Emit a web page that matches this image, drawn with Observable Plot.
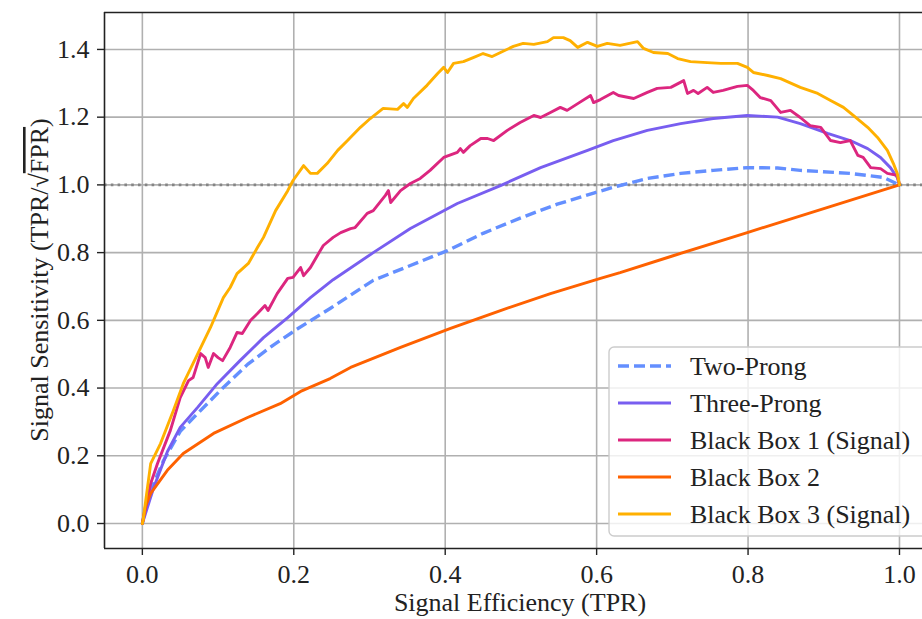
<!DOCTYPE html>
<html>
<head>
<meta charset="utf-8">
<script src="https://cdn.jsdelivr.net/npm/d3@7"></script>
<script src="https://cdn.jsdelivr.net/npm/@observablehq/plot@0.6"></script>
<style>
  html, body { margin: 0; padding: 0; background: #fff; }
  #chart { width: 922px; height: 619px; overflow: hidden; }
</style>
</head>
<body>
<div id="chart"></div>
<script>
// ---- data ----
const xTicks = [0, 0.2, 0.4, 0.6, 0.8, 1.0];
const yTicks = [0, 0.2, 0.4, 0.6, 0.8, 1.0, 1.2, 1.4];
const seriesNames = ["Two-Prong", "Three-Prong", "Black Box 1 (Signal)", "Black Box 2", "Black Box 3 (Signal)"];
const seriesColors = ["#648FFF", "#785EF0", "#DC267F", "#FE6100", "#FFB000"];
const referenceLevel = [1.0];

const twoProng = [[0,0],[0.007,0.077],[0.028,0.186],[0.05,0.272],[0.073,0.325],[0.103,0.393],[0.139,0.47],[0.173,0.527],[0.205,0.575],[0.248,0.635],[0.305,0.718],[0.354,0.762],[0.403,0.806],[0.45,0.857],[0.499,0.902],[0.548,0.943],[0.596,0.976],[0.627,0.996],[0.667,1.019],[0.711,1.034],[0.754,1.043],[0.799,1.051],[0.839,1.05],[0.869,1.043],[0.935,1.034],[0.979,1.022],[1.0,1.0]];

const threeProng = [[0,0],[0.015,0.106],[0.033,0.212],[0.05,0.284],[0.073,0.343],[0.099,0.413],[0.129,0.481],[0.16,0.549],[0.192,0.608],[0.222,0.667],[0.252,0.72],[0.305,0.8],[0.354,0.871],[0.416,0.945],[0.473,0.998],[0.526,1.051],[0.588,1.102],[0.622,1.131],[0.667,1.161],[0.711,1.181],[0.754,1.196],[0.799,1.205],[0.839,1.2],[0.869,1.181],[0.905,1.152],[0.935,1.131],[0.958,1.107],[0.975,1.081],[0.988,1.051],[0.997,1.022],[1.0,1.0]];

const blackBox1 = [[0,0],[0.011,0.118],[0.02,0.177],[0.037,0.275],[0.05,0.372],[0.061,0.422],[0.067,0.431],[0.077,0.502],[0.083,0.49],[0.087,0.461],[0.094,0.502],[0.1,0.49],[0.106,0.481],[0.116,0.52],[0.125,0.564],[0.132,0.561],[0.143,0.6],[0.152,0.62],[0.162,0.644],[0.166,0.629],[0.178,0.679],[0.192,0.724],[0.199,0.727],[0.209,0.756],[0.213,0.732],[0.222,0.756],[0.231,0.791],[0.239,0.821],[0.252,0.845],[0.262,0.859],[0.275,0.871],[0.281,0.874],[0.297,0.916],[0.305,0.924],[0.321,0.969],[0.325,0.983],[0.328,0.948],[0.341,0.983],[0.354,1.004],[0.367,1.019],[0.38,1.043],[0.398,1.081],[0.416,1.096],[0.42,1.107],[0.424,1.096],[0.433,1.116],[0.447,1.137],[0.456,1.137],[0.464,1.131],[0.482,1.161],[0.499,1.184],[0.517,1.205],[0.526,1.199],[0.539,1.214],[0.552,1.229],[0.561,1.22],[0.575,1.24],[0.592,1.264],[0.596,1.243],[0.605,1.252],[0.622,1.273],[0.629,1.264],[0.649,1.255],[0.667,1.273],[0.68,1.285],[0.698,1.288],[0.715,1.308],[0.72,1.27],[0.728,1.279],[0.734,1.27],[0.746,1.288],[0.754,1.273],[0.767,1.279],[0.786,1.291],[0.799,1.294],[0.807,1.279],[0.816,1.258],[0.83,1.249],[0.843,1.214],[0.856,1.22],[0.869,1.199],[0.882,1.175],[0.896,1.17],[0.909,1.131],[0.922,1.125],[0.935,1.131],[0.945,1.087],[0.952,1.081],[0.962,1.051],[0.975,1.048],[0.984,1.034],[0.997,1.028],[1.0,1.0]];

const blackBox2 = [[0,0],[0.004,0.05],[0.011,0.089],[0.033,0.157],[0.054,0.207],[0.094,0.266],[0.139,0.313],[0.182,0.354],[0.209,0.39],[0.248,0.428],[0.275,0.461],[0.341,0.52],[0.407,0.576],[0.473,0.629],[0.539,0.679],[0.605,0.724],[0.631,0.741],[0.7,0.79],[0.8,0.86],[0.9,0.93],[1.0,1.0]];

const blackBox3 = [[0,0],[0.001,0.009],[0.004,0.06],[0.011,0.177],[0.024,0.236],[0.041,0.334],[0.054,0.413],[0.067,0.473],[0.09,0.579],[0.107,0.667],[0.116,0.697],[0.125,0.738],[0.14,0.768],[0.152,0.815],[0.16,0.845],[0.176,0.924],[0.192,0.983],[0.199,1.013],[0.213,1.057],[0.222,1.034],[0.231,1.034],[0.244,1.063],[0.258,1.102],[0.271,1.131],[0.288,1.17],[0.301,1.196],[0.318,1.226],[0.337,1.223],[0.345,1.24],[0.35,1.229],[0.358,1.255],[0.376,1.294],[0.39,1.329],[0.398,1.347],[0.403,1.332],[0.411,1.359],[0.424,1.364],[0.437,1.376],[0.45,1.388],[0.462,1.379],[0.473,1.391],[0.49,1.409],[0.503,1.418],[0.517,1.415],[0.535,1.423],[0.543,1.435],[0.556,1.435],[0.565,1.426],[0.575,1.406],[0.588,1.421],[0.601,1.409],[0.614,1.418],[0.631,1.412],[0.654,1.423],[0.662,1.403],[0.675,1.391],[0.694,1.388],[0.707,1.373],[0.724,1.364],[0.746,1.361],[0.764,1.359],[0.786,1.359],[0.799,1.347],[0.807,1.332],[0.826,1.323],[0.843,1.314],[0.869,1.288],[0.892,1.27],[0.909,1.249],[0.926,1.229],[0.939,1.205],[0.958,1.17],[0.971,1.14],[0.984,1.102],[0.992,1.063],[0.997,1.034],[1.0,1.0]];

const seriesData = [twoProng, threeProng, blackBox1, blackBox2, blackBox3];
const seriesDash = ["11,5", null, null, null, null];

// ---- chart ----
const xDomain = [-0.05, 1.0304];
const yDomain = [-0.0738, 1.5091];
const FONT = "'Liberation Serif', 'DejaVu Serif', serif";
const FS = "26px";

const lineMarks = seriesData.map((s, i) => Plot.line(s, {
  x: d => d[0], y: d => d[1],
  stroke: seriesColors[i],
  strokeWidth: i === 0 ? 3.4 : 2.9,
  strokeDasharray: seriesDash[i] || undefined,
  strokeLinejoin: "round",
  strokeLinecap: i === 0 ? "butt" : "round"
}));

const chart = Plot.plot({
  width: 922,
  height: 619,
  marginLeft: 104,
  marginRight: 0,
  marginTop: 12,
  marginBottom: 71,
  style: {fontFamily: FONT, fontSize: FS, color: "#222", background: "#fff"},
  x: {domain: xDomain, label: null},
  y: {domain: yDomain, label: null},
  marks: [
    Plot.gridX(xTicks, {stroke: "#b0b0b0", strokeOpacity: 1, strokeWidth: 1.6}),
    Plot.gridY(yTicks, {stroke: "#b0b0b0", strokeOpacity: 1, strokeWidth: 1.6}),
    Plot.ruleY(referenceLevel, {stroke: "#858585", strokeWidth: 2.6, strokeDasharray: "2.6,4.2"}),
    ...lineMarks,
    Plot.axisX(xTicks, {tickSize: 7, tickPadding: 9, tickFormat: d3.format(".1f"), stroke: "#222", fill: "#222", strokeWidth: 1.4, label: null}),
    Plot.axisY(yTicks, {tickSize: 7, tickPadding: 8, tickFormat: d3.format(".1f"), stroke: "#222", fill: "#222", strokeWidth: 1.4, label: null}),
    Plot.ruleX([xDomain[0]], {stroke: "#222", strokeWidth: 1.6}),
    Plot.ruleY([yDomain[0], yDomain[1]], {stroke: "#222", strokeWidth: 1.6})
  ]
});

document.getElementById("chart").appendChild(chart);

const svg = d3.select(chart);

// y-axis label with overlined radicand
const yl = svg.append("text")
  .attr("transform", "translate(48,280) rotate(-90)")
  .attr("text-anchor", "middle")
  .attr("fill", "#222");
yl.append("tspan").text("Signal Sensitivity (TPR/√");
yl.append("tspan").style("text-decoration", "overline").text("FPR");
yl.append("tspan").text(")");

// x-axis label
svg.append("text")
  .attr("x", 520).attr("y", 611)
  .attr("text-anchor", "middle")
  .attr("fill", "#222")
  .text("Signal Efficiency (TPR)");

// legend
const lg = svg.append("g");
lg.append("rect")
  .attr("x", 609).attr("y", 347).attr("width", 340).attr("height", 189)
  .attr("rx", 5)
  .attr("fill", "#fff").attr("fill-opacity", 0.8)
  .attr("stroke", "#cccccc").attr("stroke-width", 1.4);
seriesNames.forEach((name, i) => {
  const y = 366 + i * 37;
  lg.append("line")
    .attr("x1", 618).attr("x2", 671).attr("y1", y).attr("y2", y)
    .attr("stroke", seriesColors[i])
    .attr("stroke-width", i === 0 ? 3.4 : 2.9)
    .attr("stroke-dasharray", seriesDash[i]);
  lg.append("text")
    .attr("x", 690).attr("y", y).attr("dy", "0.33em")
    .attr("text-anchor", "start")
    .attr("fill", "#222")
    .text(name);
});

// make every text use the serif family and size
svg.selectAll("text").style("font-family", FONT).style("font-size", FS);
</script>
</body>
</html>
